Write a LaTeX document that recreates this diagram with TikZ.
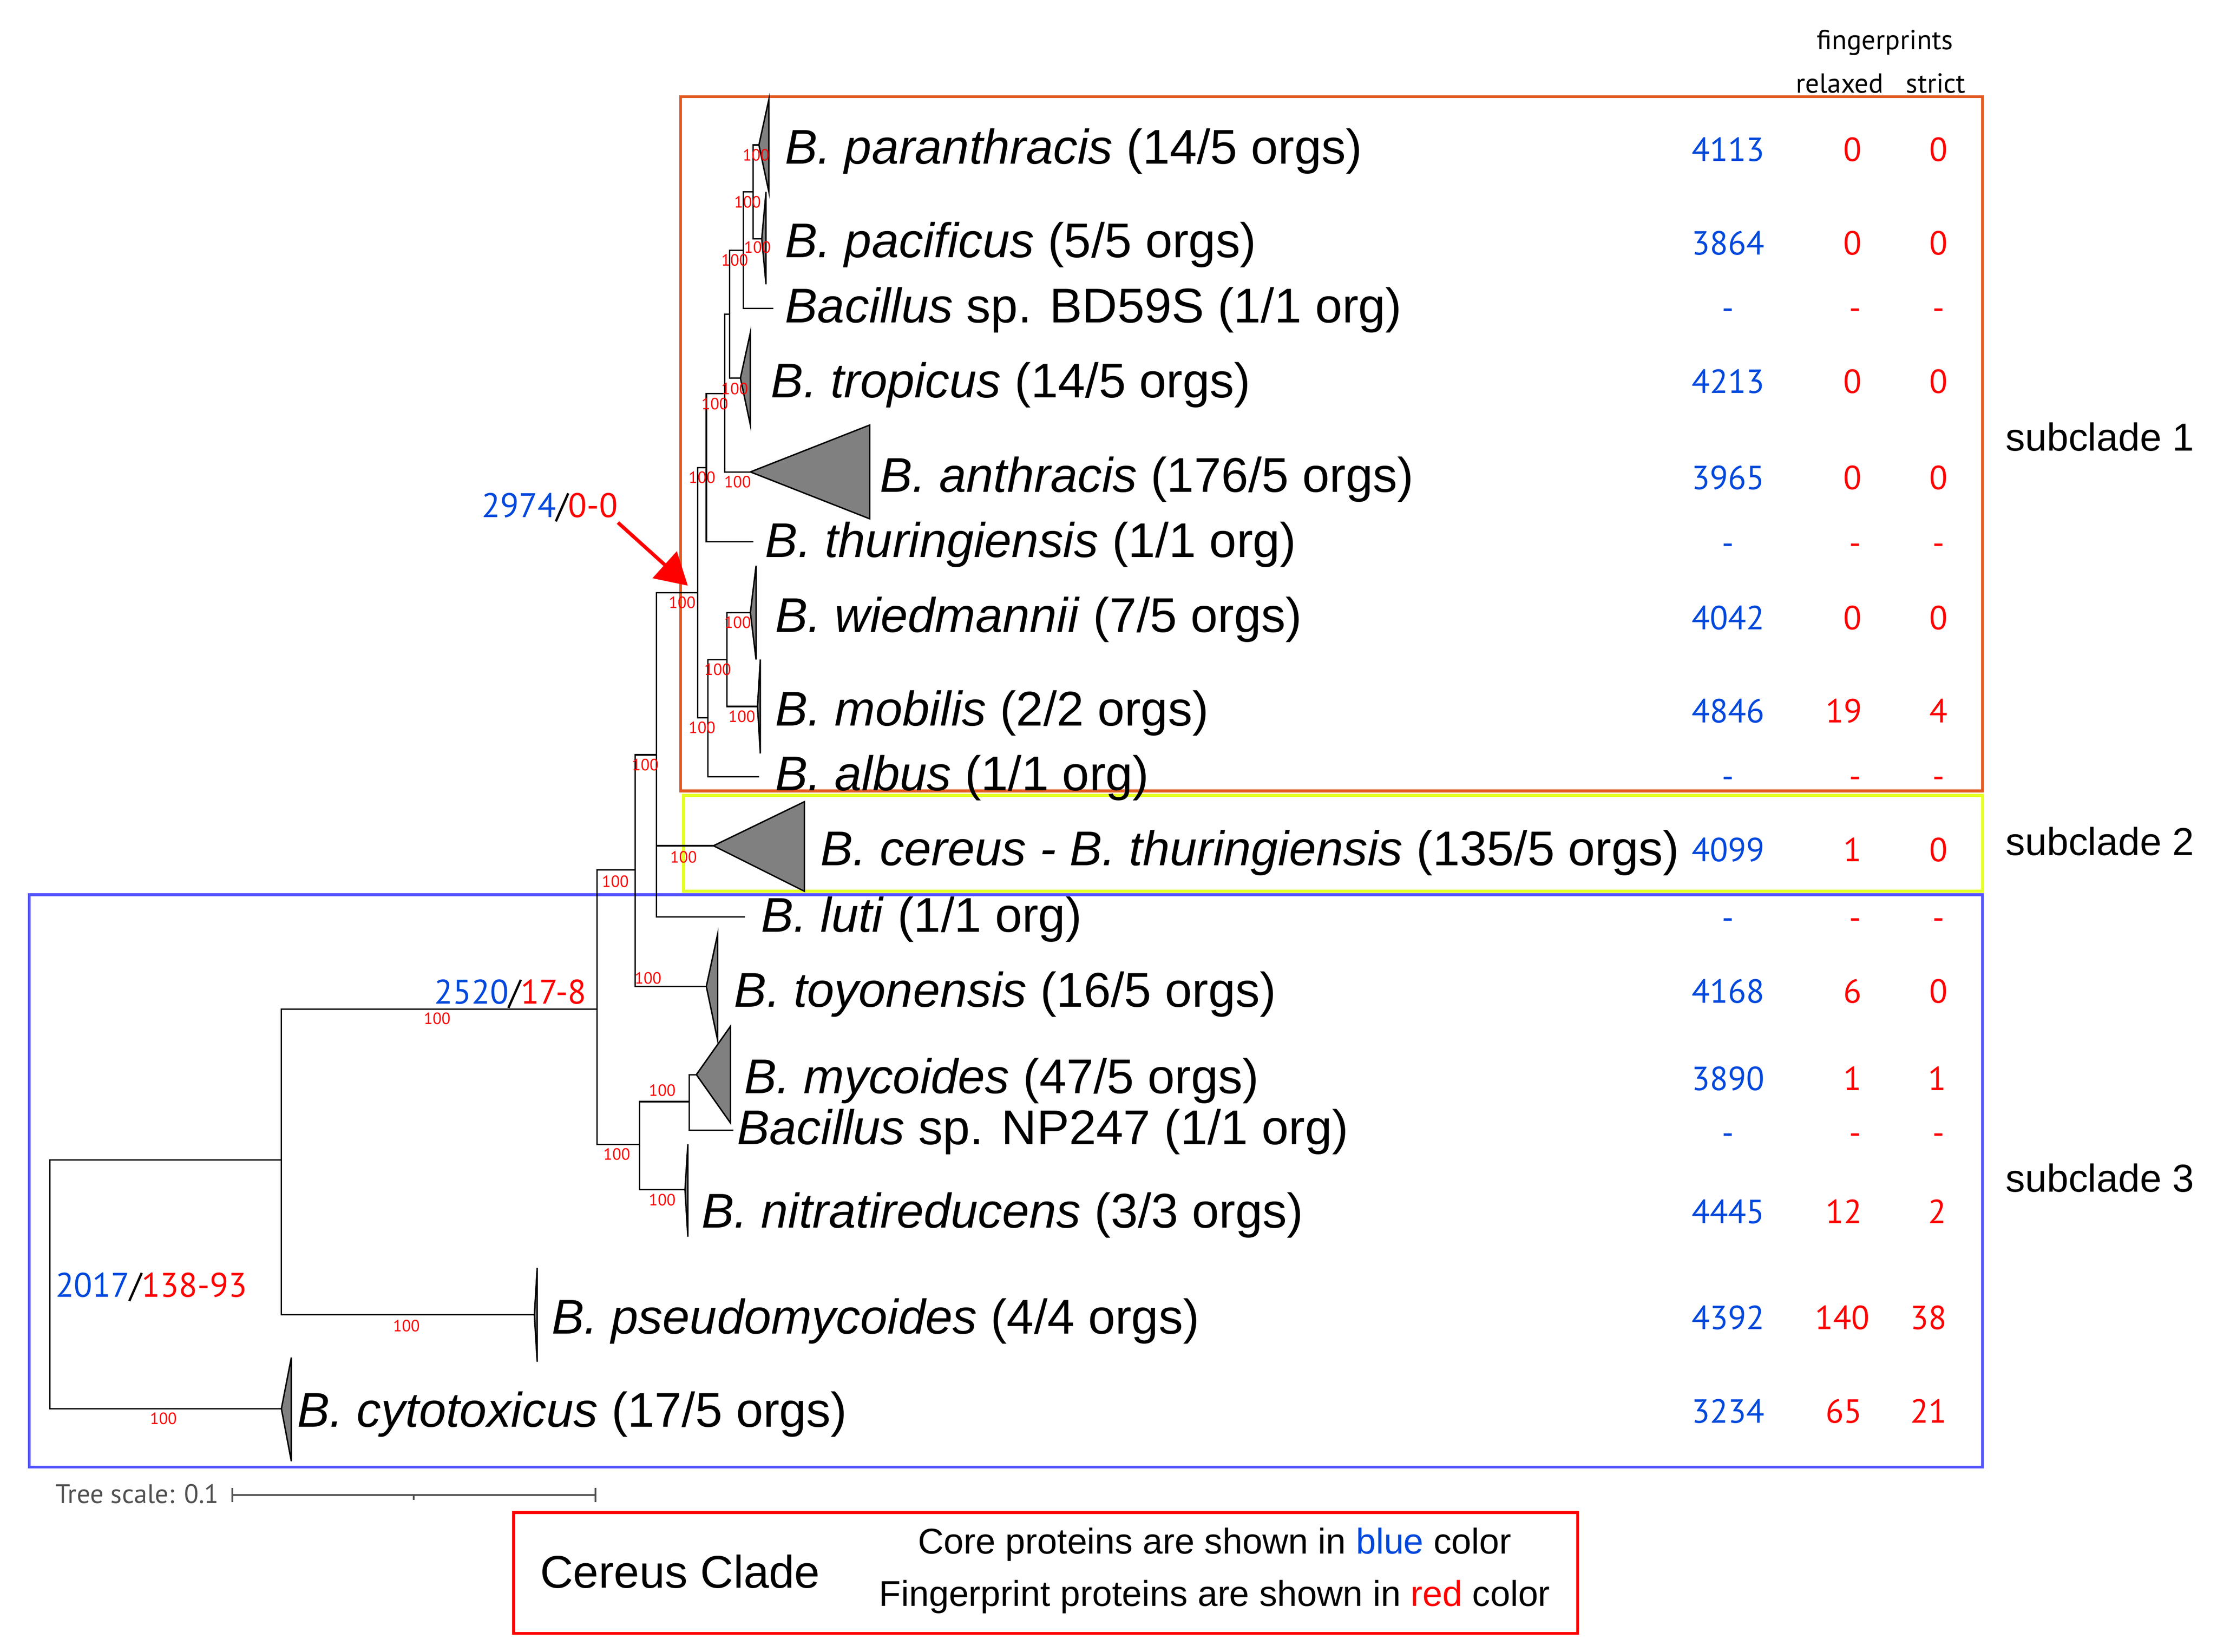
\documentclass[tikz,border=0pt]{standalone}
\usepackage{fontspec}
\setmainfont{Liberation Sans}
\newfontfamily\myr{PT Sans}
\usetikzlibrary{arrows.meta}
\definecolor{coreblue}{RGB}{0,72,220}
\definecolor{boxorange}{RGB}{227,91,34}
\definecolor{boxyellow}{RGB}{228,255,40}
\definecolor{boxblue}{RGB}{85,85,255}
\definecolor{trigray}{RGB}{128,128,128}
\definecolor{scalegray}{RGB}{80,80,80}
\begin{document}
\begin{tikzpicture}[x=1pt,y=-1pt,
  br/.style={line width=1pt, black},
  tri/.style={draw=black, fill=trigray, line width=1pt},
  bs/.style={font=\myr\fontsize{11.5}{12}\selectfont, text=red, inner sep=0pt},
  sp/.style={font=\fontsize{34.3}{40}\selectfont, anchor=base west, inner sep=0pt},
  numtxt/.style={font=\myr\fontsize{23.5}{27}\selectfont, anchor=base, inner sep=0pt},
  core/.style={numtxt, text=coreblue},
  fpn/.style={numtxt, text=red},
  ann/.style={font=\myr\fontsize{24}{28}\selectfont, inner sep=0pt},
  hdr/.style={font=\myr\fontsize{19.4}{22}\selectfont, inner sep=0pt},
  subc/.style={font=\fontsize{27.4}{32}\selectfont, inner sep=0pt},
  clbox/.style={line width=2pt}
]
\useasboundingbox (0,0) rectangle (1560,1162);

% ---------- coloured subclade boxes ----------
\draw[clbox, boxorange] (479,68) rectangle (1395,556.5);
\draw[clbox, boxyellow] (481,559.5) rectangle (1395,627);
\draw[clbox, boxblue] (20.5,629.5) rectangle (1395,1032);

% ---------- tree coordinates ----------
\coordinate (n0) at (35,903);
\coordinate (nB) at (198,816);
\coordinate (nC) at (420,710);
\coordinate (nD) at (447,612);
\coordinate (nE) at (450,805);
\coordinate (nF) at (485,775);
\coordinate (nG) at (462,531);
\coordinate (nH) at (491,417);
\coordinate (nI) at (497,329);
\coordinate (nJ) at (510,277);
\coordinate (nK) at (513.5,221);
\coordinate (nL) at (523,176);
\coordinate (nM) at (530,135);
\coordinate (nN) at (498,505);
\coordinate (nO) at (511.5,464);
% tips and leaves
\coordinate (tPar) at (534,102);
\coordinate (tPac) at (536,168);
\coordinate (lBD) at (544,217);
\coordinate (tTro) at (521,266);
\coordinate (tAnt) at (528,332);
\coordinate (lThu) at (530,381);
\coordinate (tWie) at (528,431);
\coordinate (tMob) at (533,497);
\coordinate (lAlb) at (534,546.5);
\coordinate (tCer) at (502,595);
\coordinate (lLuti) at (524,645);
\coordinate (tToy) at (497,694);
\coordinate (tMyc) at (490,756);
\coordinate (lNP) at (516,795);
\coordinate (tNit) at (482,837);
\coordinate (tPse) at (376,925);
\coordinate (tCyt) at (198,991);

\foreach \p/\q in {n0/nB,n0/tCyt,nB/nC,nB/tPse,nC/nD,nC/nE,nD/nG,nD/tToy,
  nG/nH,nG/tCer,nG/lLuti,nH/nI,nH/nN,nI/nJ,nI/lThu,nJ/nK,nJ/tAnt,nK/nL,nK/tTro,
  nL/nM,nL/lBD,nM/tPar,nM/tPac,nN/nO,nN/lAlb,nO/tWie,nO/tMob,nE/nF,nE/tNit,
  nF/tMyc,nF/lNP}
  \draw[br] (\p) |- (\q);

% ---------- collapsed clade triangles ----------
\draw[tri] (tPar) -- (541,70) -- (541,135) -- cycle;
\draw[tri] (tPac) -- (539,135) -- (539,200) -- cycle;
\draw[tri] (tTro) -- (528,234) -- (528,299) -- cycle;
\draw[tri] (tAnt) -- (612,299) -- (612,365) -- cycle;
\draw[tri] (tWie) -- (532,398) -- (532,464) -- cycle;
\draw[tri] (tMob) -- (535,464) -- (535,530) -- cycle;
\draw[tri] (tCer) -- (566,564) -- (566,627) -- cycle;
\draw[tri] (tToy) -- (505,657) -- (505,732) -- cycle;
\draw[tri] (tMyc) -- (514,722) -- (514,790) -- cycle;
\draw[tri] (tNit) -- (484,805) -- (484,870) -- cycle;
\draw[tri] (tPse) -- (378,892) -- (378,958) -- cycle;
\draw[tri] (tCyt) -- (205,955) -- (205,1028) -- cycle;

% ---------- bootstrap values ----------
\foreach \k/\bx/\by in {1/532/109,2/526/142,3/517/183,4/533/174,5/517/273.5,6/503/284,
  7/494/336,8/519/339,9/480/424,10/519/438,11/505/471,12/522/504,13/494/512,
  14/454/538,15/481/603,16/433/620,17/456/688,18/307.6/716.6,19/466/767,20/434/812,
  21/466/844,22/286/932.7,23/115/998}
  \node[bs] (bs\k) at (\bx,\by) {100};

% ---------- tree scale ----------
\node[font=\myr\fontsize{18.8}{21}\selectfont, text=scalegray, anchor=west, inner sep=0pt] (tsl) at (39,1051) {Tree scale: 0.1};
\coordinate (sb0) at (163.4,1051.7);
\coordinate (sbm) at (291,1051.7);
\coordinate (sb1) at (419,1051.7);
\draw[scalegray, line width=1.4pt] (sb0) -- (sb1);
\draw[scalegray, line width=1.2pt] ([yshift=5pt]sb0) -- ([yshift=-5pt]sb0);
\draw[scalegray, line width=1.2pt] ([yshift=5pt]sb1) -- ([yshift=-5pt]sb1);
\draw[scalegray, line width=1.2pt] (sbm) -- ([yshift=-3.5pt]sbm);

% ---------- legend ----------
\draw[clbox, red] (361.5,1064) rectangle (1110,1149);

\begin{scope}[scale=0.995]
% ---------- species labels ----------
\node[sp] (sPar) at (555,116) {\textit{B. paranthracis} (14/5 orgs)};
\node[sp] (sPac) at (555,182) {\textit{B. pacificus} (5/5 orgs)};
\node[sp] (sBD) at (555,228) {\textit{Bacillus} sp. BD59S (1/1 org)};
\node[sp] (sTro) at (545,281) {\textit{B. tropicus} (14/5 orgs)};
\node[sp] (sAnt) at (622,348) {\textit{B. anthracis} (176/5 orgs)};
\node[sp] (sThu) at (541,394) {\textit{B. thuringiensis} (1/1 org)};
\node[sp] (sWie) at (548,447) {\textit{B. wiedmannii} (7/5 orgs)};
\node[sp] (sMob) at (548,513) {\textit{B. mobilis} (2/2 orgs)};
\node[sp] (sAlb) at (548,559) {\textit{B. albus} (1/1 org)};
\node[sp] (sCer) at (580,612) {\textit{B. cereus - B. thuringiensis} (135/5 orgs)};
\node[sp] (sLuti) at (538,659) {\textit{B. luti} (1/1 org)};
\node[sp] (sToy) at (519,712) {\textit{B. toyonensis} (16/5 orgs)};
\node[sp] (sMyc) at (526,773) {\textit{B. mycoides} (47/5 orgs)};
\node[sp] (sNP) at (521,809) {\textit{Bacillus} sp. NP247 (1/1 org)};
\node[sp] (sNit) at (496,868) {\textit{B. nitratireducens} (3/3 orgs)};
\node[sp] (sPse) at (390,943) {\textit{B. pseudomycoides} (4/4 orgs)};
\node[sp] (sCyt) at (210,1009) {\textit{B. cytotoxicus} (17/5 orgs)};

% ---------- number columns ----------
\node[hdr] (hFp) at (1333,30) {fingerprints};
\node[hdr] (hRel) at (1301,59) {relaxed};
\node[hdr] (hStr) at (1369,59) {strict};
\foreach \i/\y/\cv/\rv/\rx/\sv/\sx in {
  1/106/4113/0/1310/0/1371,
  2/172/3864/0/1310/0/1371,
  3/218/-/-/1312/-/1371,
  4/270/4213/0/1310/0/1371,
  5/338/3965/0/1310/0/1371,
  6/384/-/-/1312/-/1371,
  7/437/4042/0/1310/0/1371,
  8/503/4846/19/1304/4/1371,
  9/549/-/-/1312/-/1371,
  10/601/4099/1/1310/0/1371,
  11/649/-/-/1312/-/1371,
  12/701/4168/6/1310/0/1371,
  13/763/3890/1/1310/1/1370,
  14/801/-/-/1312/-/1371,
  15/857/4445/12/1304/2/1370,
  16/932/4392/140/1303/38/1364,
  17/998/3234/65/1304/21/1364}
{
  \node[core] (core\i) at (1222,\y+8) {\cv};
  \node[fpn] (rel\i) at (\rx,\y+8) {\rv};
  \node[fpn] (str\i) at (\sx,\y+8) {\sv};
}

% ---------- subclade names ----------
\node[subc] (sc1) at (1485,309) {subclade 1};
\node[subc] (sc2) at (1485,595) {subclade 2};
\node[subc] (sc3) at (1485,833) {subclade 3};

% ---------- node annotations ----------
\node[ann, anchor=east] (ann1) at (437,359) {\textcolor{coreblue}{2974}/\textcolor{red}{0-0}};
\node[ann, anchor=east] (ann2) at (415,703) {\textcolor{coreblue}{2520}/\textcolor{red}{17-8}};
\node[ann, anchor=west] (ann3) at (39,910) {\textcolor{coreblue}{2017}/\textcolor{red}{138-93}};

% ---------- legend texts ----------
\node[font=\fontsize{32.2}{37}\selectfont, inner sep=0pt] (lgT) at (481,1111) {Cereus Clade};
\node[font=\fontsize{25.2}{30}\selectfont, inner sep=0pt] (lg1) at (859,1092) {Core proteins are shown in \textcolor{coreblue}{blue} color};
\node[font=\fontsize{25.2}{30}\selectfont, inner sep=0pt] (lg2) at (859,1129) {Fingerprint proteins are shown in \textcolor{red}{red} color};
\end{scope}

% ---------- arrow to subclade-1 node ----------
\coordinate (arrTip) at (484,412);
\draw[red, line width=2.5pt, -{Triangle[length=22pt,width=25pt]}] (ann1.south east) -- (arrTip);
\end{tikzpicture}
\end{document}
